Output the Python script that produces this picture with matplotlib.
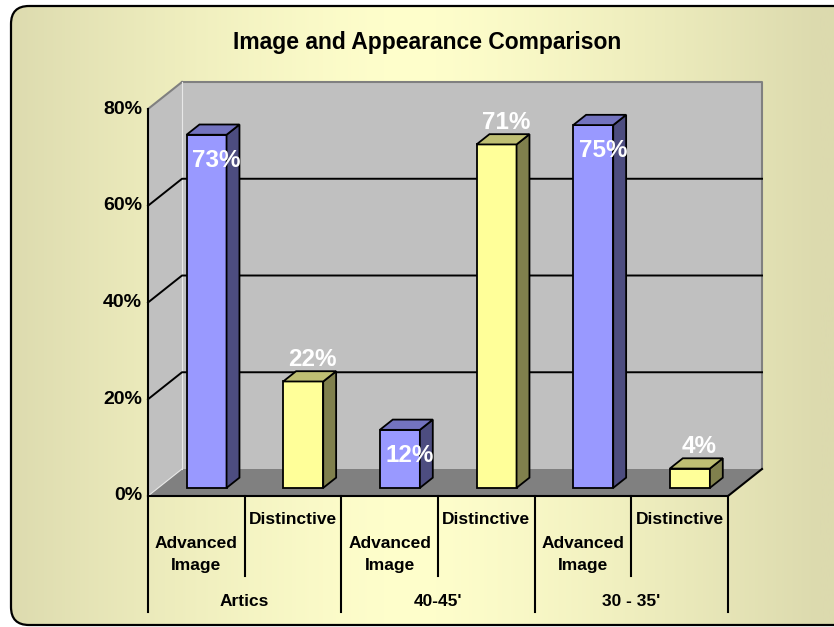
import numpy as np
import matplotlib.pyplot as plt
from matplotlib.patches import Polygon, FancyBboxPatch

plt.rcParams['font.family'] = ['Liberation Sans', 'DejaVu Sans']

title = "Image and Appearance Comparison"
groups = ["Artics", "40-45'", "30 - 35'"]
series = ["Advanced\nImage", "Distinctive"]
advanced = [73, 12, 75]
distinctive = [22, 71, 4]
yticks = [0, 20, 40, 60, 80]

front_cols = ["#9999FF", "#FFFF99"]
side_cols = ["#4D4D80", "#80804D"]
top_cols = ["#7373BF", "#BFBF73"]

W, H = 834, 627
fig = plt.figure(figsize=(W / 100, H / 100), dpi=100)

# background: rounded panel with horizontal gradient
bg = fig.add_axes([0, 0, 1, 1])
bg.set_xlim(0, W)
bg.set_ylim(H, 0)
bg.axis("off")
xs = np.linspace(0, W, 400)
t = np.clip(np.abs(xs - 410) / 410, 0, 1) ** 1.3
edge = np.array([220, 218, 174]) / 255
mid = np.array([255, 255, 204]) / 255
grad = mid[None, :] * (1 - t[:, None]) + edge[None, :] * t[:, None]
img = bg.imshow(grad[None, :, :], extent=(0, W, H, 0), aspect="auto")
box = FancyBboxPatch((11, 6), 870, 619, boxstyle="round,pad=0,rounding_size=18",
                     fc="none", ec="black", lw=1.6)
bg.add_patch(box)
img.set_clip_path(box)

fig.text(427.5 / W, 1 - 42 / H, title, ha="center", va="center",
         fontsize=16.5, fontweight="bold")

# main plot area = front plane of the 3d box
ax = fig.add_axes([148 / W, 131 / H, 580 / W, 387 / H])
ax.set_xlim(0, 6)
ax.set_ylim(0, 80)
ax.axis("off")
ax.patch.set_visible(False)

DX, DY = 0.3517, 5.58      # depth offset in data units
TOP = yticks[-1]
N = 2 * len(groups)

# walls and floor
ax.add_patch(Polygon([(DX, DY), (N + DX, DY), (N + DX, TOP + DY), (DX, TOP + DY)],
                     fc="#C0C0C0", ec="none", clip_on=False, zorder=1))
ax.add_patch(Polygon([(0, 0), (DX, DY), (DX, TOP + DY), (0, TOP)],
                     fc="#C0C0C0", ec="none", clip_on=False, zorder=1))
ax.add_patch(Polygon([(0, 0), (N, 0), (N + DX, DY), (DX, DY)],
                     fc="#808080", ec="none", clip_on=False, zorder=1))
ax.plot([DX, N + DX, N + DX], [TOP + DY, TOP + DY, DY], color="#808080", lw=1.5,
        clip_on=False, zorder=2)
ax.plot([0, DX], [TOP, TOP + DY], color="#808080", lw=1.5, clip_on=False, zorder=2)
ax.plot([DX, DX], [DY, TOP + DY], color="#E8E8E8", lw=0.8, clip_on=False, zorder=2)
ax.plot([0, DX], [0, DY], color="#E8E8E8", lw=0.8, clip_on=False, zorder=2)
for v in yticks[1:-1]:
    ax.plot([0, DX, N + DX], [v, v + DY, v + DY], color="black", lw=1.4,
            clip_on=False, zorder=2)
ax.plot([0, 0], [0, TOP], color="black", lw=1.5, clip_on=False, zorder=2)
ax.plot([0, N, N + DX], [0, 0, DY], color="black", lw=1.5, clip_on=False, zorder=2)

# bars
values = []
kinds = []
for a, d in zip(advanced, distinctive):
    values += [a, d]
    kinds += [0, 1]
centers = np.arange(N) + 0.5
f0, f1 = 0.3, 0.68
BW = 0.414
ddx, ddy = (f1 - f0) * DX, (f1 - f0) * DY
base = f0 * DY
ax.bar(centers + f0 * DX, values, width=BW, bottom=base,
       color=[front_cols[k] for k in kinds], edgecolor="black", lw=1.3,
       clip_on=False, zorder=3)
for c, v, k in zip(centers, values, kinds):
    xl = c + f0 * DX - BW / 2
    xr = xl + BW
    yt = base + v
    ax.add_patch(Polygon([(xr, base), (xr + ddx, base + ddy), (xr + ddx, yt + ddy), (xr, yt)],
                         fc=side_cols[k], ec="black", lw=1.3, clip_on=False, zorder=3))
    ax.add_patch(Polygon([(xl, yt), (xr, yt), (xr + ddx, yt + ddy), (xl + ddx, yt + ddy)],
                         fc=top_cols[k], ec="black", lw=1.3, clip_on=False, zorder=3))
    off = -5.3 if k == 0 else 4.6
    ax.text(c + f0 * DX + 0.1, yt + off, "{}%".format(v), ha="center", va="center",
            color="white", fontsize=17.5, fontweight="bold", zorder=5)

# y tick labels
for v in yticks:
    ax.text(-0.062, v, "{}%".format(v), ha="right", va="center",
            fontsize=14, fontweight="bold")

# category labels (two levels)
for c, k in zip(centers, kinds):
    if k == 0:
        ax.text(c, -12.1, series[0], ha="center", va="center", fontsize=12.5,
                fontweight="bold", linespacing=1.6)
    else:
        ax.text(c, -4.96, series[1], ha="center", va="center", fontsize=12.5,
                fontweight="bold")
for i, g in enumerate(groups):
    ax.text(2 * i + 1, -21.85, g, ha="center", va="center", fontsize=12.5,
            fontweight="bold")
for kx in range(N + 1):
    low = -24.0 if kx % 2 == 0 else -16.5
    ax.plot([kx, kx], [0, low], color="black", lw=1.5, clip_on=False)

fig.savefig("out.png", dpi=100)
